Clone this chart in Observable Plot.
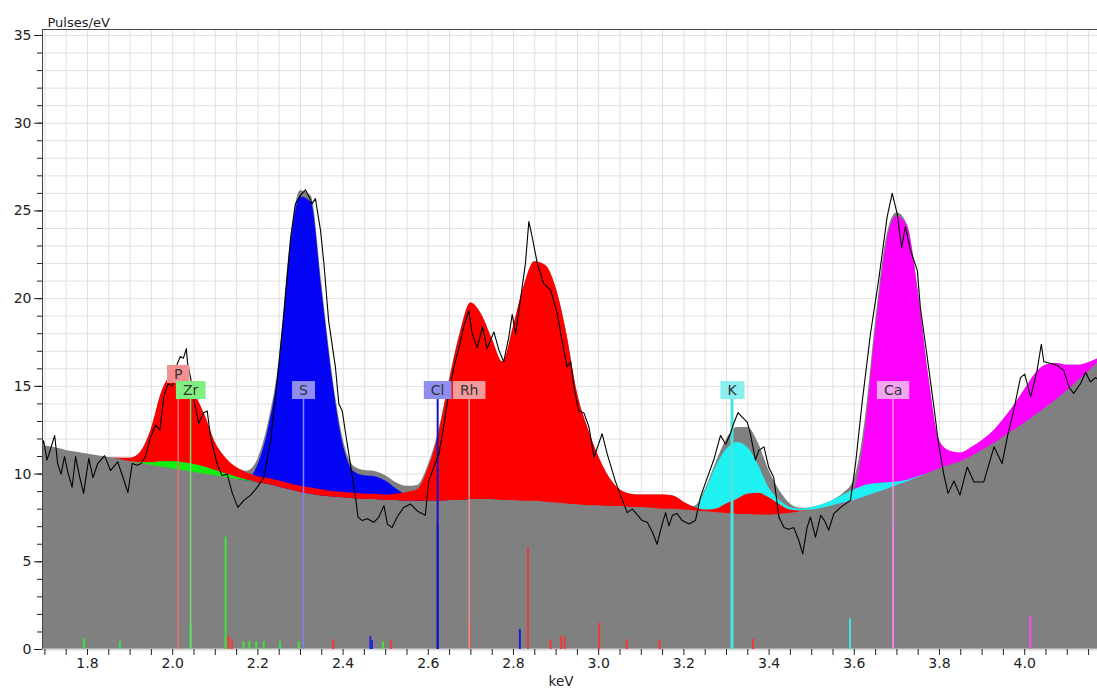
<!DOCTYPE html>
<html><head><meta charset="utf-8">
<script src="https://cdn.jsdelivr.net/npm/d3@7"></script>
<script src="https://cdn.jsdelivr.net/npm/@observablehq/plot@0.6"></script>
<style>body{margin:0;background:#fff} svg{display:block}</style>
</head><body>
<script>
// Energy grid (keV) for the fitted areas
const energy = [
  1.675, 1.700, 1.725, 1.750, 1.775, 1.800, 1.825, 1.850, 1.875, 1.900,
  1.925, 1.950, 1.975, 2.000, 2.025, 2.050, 2.075, 2.100, 2.125, 2.150,
  2.175, 2.200, 2.225, 2.250, 2.275, 2.300, 2.325, 2.350, 2.375, 2.400,
  2.425, 2.450, 2.475, 2.500, 2.525, 2.550, 2.575, 2.600, 2.625, 2.650,
  2.675, 2.700, 2.725, 2.750, 2.775, 2.800, 2.825, 2.850, 2.875, 2.900,
  2.925, 2.950, 2.975, 3.000, 3.025, 3.050, 3.075, 3.100, 3.125, 3.150,
  3.175, 3.200, 3.225, 3.250, 3.275, 3.300, 3.325, 3.350, 3.375, 3.400,
  3.425, 3.450, 3.475, 3.500, 3.525, 3.550, 3.575, 3.600, 3.625, 3.650,
  3.675, 3.700, 3.725, 3.750, 3.775, 3.800, 3.825, 3.850, 3.875, 3.900,
  3.925, 3.950, 3.975, 4.000, 4.025, 4.050, 4.075, 4.100, 4.125, 4.150,
  4.175];
// Bremsstrahlung background (Pulses/eV)
const background = [
  11.7, 11.6, 11.5, 11.35, 11.25, 11.15, 11.05, 10.95, 10.85, 10.7,
  10.6, 10.5, 10.4, 10.3, 10.2, 10.1, 10.0, 9.9, 9.8, 9.7,
  9.6, 9.5, 9.4, 9.25, 9.1, 8.95, 8.85, 8.75, 8.7, 8.65,
  8.6, 8.55, 8.55, 8.5, 8.5, 8.45, 8.45, 8.45, 8.45, 8.5,
  8.5, 8.55, 8.55, 8.55, 8.5, 8.5, 8.45, 8.45, 8.4, 8.35,
  8.3, 8.25, 8.2, 8.2, 8.15, 8.15, 8.1, 8.1, 8.05, 8.0,
  8.0, 7.95, 7.9, 7.85, 7.8, 7.75, 7.7, 7.7, 7.65, 7.65,
  7.7, 7.75, 7.85, 7.95, 8.05, 8.2, 8.35, 8.5, 8.7, 8.9,
  9.1, 9.35, 9.55, 9.8, 10.05, 10.3, 10.5, 10.7, 11.0, 11.35,
  11.7, 12.1, 12.5, 12.9, 13.35, 13.8, 14.25, 14.75, 15.3, 15.85,
  16.45];
// Element contributions above background
const redPRh = [
  0, 0, 0, 0, 0, 0, 0, 0, 0.05, 0.2,
  0.6, 1.9, 4.0, 4.9, 5.0, 4.1, 3.0, 1.6, 0.9, 0.55,
  0.4, 0.35, 0.35, 0.35, 0.35, 0.35, 0.35, 0.35, 0.3, 0.3,
  0.3, 0.3, 0.3, 0.3, 0.35, 0.5, 0.65, 1.85, 3.85, 6.8,
  9.5, 11.2, 10.55, 9.15, 7.9, 9.9, 12.25, 13.65, 13.5, 12.25,
  9.7, 6.35, 4.4, 2.8, 1.65, 0.95, 0.75, 0.7, 0.75, 0.8,
  0.75, 0.45, 0.2, 0.1, 0.2, 0.55, 0.85, 1.15, 1.25, 1.0,
  0.55, 0.2, 0.05, 0, 0, 0, 0, 0, 0, 0,
  0, 0, 0, 0, 0, 0, 0, 0, 0, 0,
  0, 0, 0, 0, 0, 0, 0, 0, 0, 0,
  0];
const greenZr = [
  0, 0, 0, 0, 0, 0, 0, 0, 0, 0,
  0.05, 0.15, 0.3, 0.4, 0.45, 0.45, 0.4, 0.3, 0.2, 0.12,
  0.06, 0, 0, 0, 0, 0, 0, 0, 0, 0,
  0, 0, 0, 0, 0, 0, 0, 0, 0, 0,
  0, 0, 0, 0, 0, 0, 0, 0, 0, 0,
  0, 0, 0, 0, 0, 0, 0, 0, 0, 0,
  0, 0, 0, 0, 0, 0, 0, 0, 0, 0,
  0, 0, 0, 0, 0, 0, 0, 0, 0, 0,
  0, 0, 0, 0, 0, 0, 0, 0, 0, 0,
  0, 0, 0, 0, 0, 0, 0, 0, 0, 0,
  0];
const blueSCl = [
  0, 0, 0, 0, 0, 0, 0, 0, 0, 0,
  0, 0, 0, 0, 0, 0, 0, 0, 0, 0,
  0.1, 1.0, 3.2, 6.85, 13.5, 16.85, 16.65, 11.75, 6.7, 3.05,
  1.55, 1.35, 1.3, 1.1, 0.65, 0.35, 0.25, 0.2, 0.2, 0.1,
  0.05, 0, 0, 0, 0, 0, 0, 0, 0, 0,
  0, 0, 0, 0, 0, 0, 0, 0, 0, 0,
  0, 0, 0, 0, 0, 0, 0, 0, 0, 0,
  0, 0, 0, 0, 0, 0, 0, 0, 0, 0,
  0, 0, 0, 0, 0, 0, 0, 0, 0, 0,
  0, 0, 0, 0, 0, 0, 0, 0, 0, 0,
  0];
const cyanK = [
  0, 0, 0, 0, 0, 0, 0, 0, 0, 0,
  0, 0, 0, 0, 0, 0, 0, 0, 0, 0,
  0, 0, 0, 0, 0, 0, 0, 0, 0, 0,
  0, 0, 0, 0, 0, 0, 0, 0, 0, 0,
  0, 0, 0, 0, 0, 0, 0, 0, 0, 0,
  0, 0, 0, 0, 0, 0, 0, 0, 0, 0,
  0, 0, 0.05, 1.15, 2.6, 3.65, 4.1, 3.8, 2.85, 1.55,
  0.8, 0.35, 0.15, 0.15, 0.2, 0.3, 0.45, 0.6, 0.65, 0.55,
  0.4, 0.2, 0.1, 0.05, 0, 0, 0, 0, 0, 0,
  0, 0, 0, 0, 0, 0, 0, 0, 0, 0,
  0];
const magentaCa = [
  0, 0, 0, 0, 0, 0, 0, 0, 0, 0,
  0, 0, 0, 0, 0, 0, 0, 0, 0, 0,
  0, 0, 0, 0, 0, 0, 0, 0, 0, 0,
  0, 0, 0, 0, 0, 0, 0, 0, 0, 0,
  0, 0, 0, 0, 0, 0, 0, 0, 0, 0,
  0, 0, 0, 0, 0, 0, 0, 0, 0, 0,
  0, 0, 0, 0, 0, 0, 0, 0, 0, 0,
  0, 0, 0, 0, 0, 0, 0.1, 0.6, 3.6, 9.2,
  13.9, 15.35, 14.55, 10.6, 5.45, 1.6, 0.8, 0.5, 0.5, 0.55,
  0.7, 1.0, 1.4, 1.9, 2.35, 2.4, 2.05, 1.45, 0.9, 0.5,
  0.15];

// Measured spectrum
const spectrumKeV = [
  1.693, 1.697, 1.705, 1.713, 1.723, 1.730, 1.738, 1.746, 1.754, 1.764,
  1.772, 1.782, 1.791, 1.803, 1.813, 1.824, 1.840, 1.854, 1.871, 1.895,
  1.905, 1.917, 1.926, 1.936, 1.948, 1.960, 1.970, 1.979, 1.989, 1.999,
  2.011, 2.018, 2.025, 2.032, 2.035, 2.042, 2.050, 2.061, 2.073, 2.081,
  2.089, 2.104, 2.116, 2.128, 2.140, 2.153, 2.167, 2.183, 2.197, 2.214,
  2.230, 2.245, 2.261, 2.277, 2.288, 2.300, 2.312, 2.320, 2.327, 2.335,
  2.347, 2.355, 2.366, 2.382, 2.390, 2.398, 2.406, 2.417, 2.429, 2.435,
  2.445, 2.457, 2.472, 2.484, 2.496, 2.504, 2.515, 2.527, 2.542, 2.558,
  2.574, 2.593, 2.601, 2.613, 2.625, 2.636, 2.648, 2.660, 2.672, 2.683,
  2.695, 2.703, 2.715, 2.727, 2.738, 2.754, 2.766, 2.777, 2.789, 2.797,
  2.805, 2.816, 2.828, 2.836, 2.844, 2.856, 2.871, 2.887, 2.903, 2.914,
  2.926, 2.934, 2.942, 2.953, 2.965, 2.977, 2.989, 3.008, 3.020, 3.039,
  3.059, 3.067, 3.079, 3.090, 3.102, 3.114, 3.126, 3.137, 3.149, 3.157,
  3.165, 3.173, 3.184, 3.196, 3.212, 3.227, 3.239, 3.255, 3.270, 3.286,
  3.298, 3.309, 3.317, 3.327, 3.337, 3.349, 3.356, 3.368, 3.376, 3.388,
  3.399, 3.411, 3.423, 3.435, 3.446, 3.458, 3.470, 3.479, 3.489, 3.497,
  3.509, 3.521, 3.530, 3.540, 3.552, 3.568, 3.579, 3.591, 3.603, 3.619,
  3.638, 3.658, 3.677, 3.689, 3.701, 3.711, 3.720, 3.732, 3.748, 3.755,
  3.771, 3.787, 3.798, 3.810, 3.820, 3.834, 3.848, 3.865, 3.881, 3.904,
  3.928, 3.947, 3.960, 3.974, 3.990, 4.000, 4.014, 4.029, 4.039, 4.045,
  4.061, 4.076, 4.092, 4.104, 4.115, 4.131, 4.143, 4.154, 4.166, 4.172];
const spectrumValue = [
  11.5, 11.9, 10.8, 11.4, 12.2, 10.6, 10.0, 11.0, 10.1, 9.25,
  11.0, 9.8, 8.9, 10.9, 9.8, 10.6, 11.05, 10.2, 10.7, 8.95,
  10.6, 10.5, 10.6, 11.0, 12.1, 12.8, 12.5, 14.4, 15.15, 15.0,
  16.3, 16.7, 16.6, 17.15, 16.3, 15.5, 14.2, 12.9, 13.5, 13.6,
  12.1, 10.6, 9.9, 10.0, 8.9, 8.1, 8.5, 8.8, 9.2, 9.8,
  11.9, 15.3, 19.1, 23.5, 25.4, 25.9, 26.2, 25.8, 25.4, 25.7,
  23.9, 22.0, 18.75, 16.1, 14.0, 13.6, 12.3, 10.6, 8.7, 7.55,
  7.35, 7.45, 7.25, 7.55, 8.2, 7.15, 6.95, 7.55, 8.1, 8.3,
  7.9, 7.65, 9.6, 10.4, 11.15, 12.7, 14.6, 16.1, 17.2, 18.4,
  19.3, 18.0, 17.2, 18.4, 17.15, 18.1, 17.05, 16.4, 17.8, 19.1,
  18.0, 19.9, 22.0, 24.4, 23.5, 22.0, 20.85, 20.5, 19.1, 17.6,
  16.1, 16.4, 14.95, 13.6, 13.5, 12.7, 10.95, 12.3, 11.15, 9.6,
  8.3, 7.8, 8.0, 7.7, 7.35, 7.25, 6.7, 6.0, 7.15, 7.8,
  7.05, 7.65, 7.75, 7.35, 7.15, 7.35, 8.7, 9.8, 10.8, 12.2,
  11.7, 12.3, 12.9, 13.5, 13.25, 12.95, 12.3, 10.8, 11.35, 11.55,
  10.4, 9.8, 7.55, 6.95, 6.85, 6.95, 6.2, 5.45, 6.95, 7.55,
  6.4, 7.65, 7.35, 6.8, 7.75, 8.1, 8.3, 8.5, 10.6, 14.2,
  18.0, 21.2, 24.65, 26.0, 24.8, 22.9, 24.1, 22.75, 21.6, 19.5,
  16.7, 13.8, 11.7, 10.0, 8.9, 9.6, 8.8, 10.4, 9.55, 9.55,
  11.55, 10.6, 12.2, 13.6, 15.5, 15.7, 14.4, 15.9, 17.4, 16.4,
  16.3, 16.2, 15.9, 14.95, 14.6, 15.15, 15.8, 15.25, 15.5, 15.4];

// Line intensity markers at the bottom
const lineKeV = [1.792, 1.876, 2.042, 2.124, 2.166, 2.180, 2.196, 2.214, 2.252, 2.296, 2.494,
  2.131, 2.139, 2.377, 2.512, 2.696, 2.834, 2.887, 2.912, 2.920, 3.001, 3.066, 3.143, 3.362,
  2.464, 2.468, 2.622, 2.815,
  3.313, 3.590,
  3.691, 4.013];
const lineHeight = [0.6, 0.45, 1.4, 6.4, 0.45, 0.45, 0.45, 0.45, 0.45, 0.45, 0.45,
  0.75, 0.6, 0.55, 0.5, 1.5, 5.8, 0.55, 0.75, 0.7, 1.5, 0.55, 0.5, 0.6,
  0.75, 0.5, 7.1, 1.15,
  7.4, 1.75,
  7.1, 1.9];
const lineElement = ["Zr","Zr","Zr","Zr","Zr","Zr","Zr","Zr","Zr","Zr","Zr",
  "P","P","Rh","Rh","Rh","Rh","Rh","Rh","Rh","Rh","Rh","Rh","Rh",
  "S","S","Cl","Cl",
  "K","K",
  "Ca","Ca"];

// Element label markers
const markerNames = ["P", "Zr", "S", "Cl", "Rh", "K", "Ca"];
const markerKeV = [2.013, 2.042, 2.307, 2.622, 2.696, 3.313, 3.691];
const markerLabelY = [15.68, 14.76, 14.76, 14.76, 14.76, 14.76, 14.76];

const xTickValues = d3.range(34, 84).map(k => k / 20);
const yMajorTicks = [0, 5, 10, 15, 20, 25, 30, 35];
const yMinorTicks = d3.range(0, 36);

// Styling
const barColor = {Zr: "#3fe03f", P: "#f03a3a", Rh: "#f03a3a", S: "#2626d8", Cl: "#1a1ad0", K: "#40e2e2", Ca: "#f050f0"};
const markerLineColor = {P: "#ee6e6e", Zr: "#70de70", S: "#8080ff", Cl: "#1414c4", Rh: "#f29090", K: "#44e4e4", Ca: "#f290f2"};
const markerLineWidth = {P: 1.5, Zr: 1.5, S: 1.5, Cl: 2, Rh: 1.5, K: 3, Ca: 1.5};
const markerBoxColor = {P: "#f39090", Zr: "#80ee80", S: "#8e8ef0", Cl: "#8e8ef0", Rh: "#f39a9a", K: "#88eeee", Ca: "#f2a6f2"};

const X0 = 1.6944, X1 = 4.1709, YMAX = 35.342;

const rows = energy.map((e, i) => ({
  e,
  total: background[i] + redPRh[i] + greenZr[i] + blueSCl[i] + cyanK[i] + magentaCa[i]
}));

// area from (background + base) to (background + base + values)
function layer(values, fill, base) {
  const data = energy.map((e, i) => {
    const on = values[i] > 0 || values[i - 1] > 0 || values[i + 1] > 0;
    const lo = background[i] + (base ? base[i] : 0);
    return {e, lo: on ? lo : NaN, hi: on ? lo + values[i] : NaN};
  });
  return Plot.areaY(data, {x: "e", y1: "lo", y2: "hi", fill, curve: "monotone-x", clip: true});
}

const spectrum = spectrumKeV.map((k, i) => ({k, v: spectrumValue[i]}));
const bars = lineKeV.map((k, i) => ({k, h: lineHeight[i], el: lineElement[i]}));
const markers = markerNames.map((n, i) => ({n, k: markerKeV[i], y: markerLabelY[i]}));

const chart = Plot.plot({
  width: 1097,
  height: 693,
  marginLeft: 42,
  marginRight: 0,
  marginTop: 29,
  marginBottom: 44,
  style: {fontFamily: "DejaVu Sans, Verdana, sans-serif", fontSize: "14px", background: "#fff", color: "#222"},
  x: {domain: [X0, X1]},
  y: {domain: [0, YMAX]},
  marks: [
    Plot.gridX(xTickValues, {stroke: "#e1e1e1", strokeOpacity: 1}),
    Plot.gridY(d3.range(1, 36), {stroke: "#e1e1e1", strokeOpacity: 1}),
    Plot.areaY(rows, {x: "e", y1: 0, y2: "total", fill: "#808080", curve: "monotone-x", clip: true}),
    layer(magentaCa, "#ff00ff"),
    layer(cyanK, "#1ff0f0"),
    layer(blueSCl, "#0505f5"),
    layer(redPRh, "#ff0000", greenZr),
    layer(greenZr, "#10f010"),
    Plot.ruleY([0], {stroke: "#d8d8d8", strokeWidth: 2}),
    Plot.ruleX(bars, {x: "k", y1: 0, y2: "h", stroke: d => barColor[d.el], strokeWidth: 2}),
    ...markers.map(m => Plot.ruleX([m], {x: "k", y1: 0, y2: "y", stroke: markerLineColor[m.n], strokeWidth: markerLineWidth[m.n]})),
    Plot.line(spectrum, {x: "k", y: "v", stroke: "#000", strokeWidth: 1.1, clip: true}),
    Plot.text(markers, {x: "k", y: "y", text: "n", fill: "#333", fontSize: 14}),
    Plot.ruleX([X0], {stroke: "#444"}),
    Plot.ruleY([YMAX], {stroke: "#444"}),
    Plot.axisX(xTickValues, {
      tickSize: 6, tickPadding: 3, label: null, color: "#222",
      tickFormat: d => { const k = Math.round(d * 20); return k % 4 === 0 ? (k / 20).toFixed(1) : ""; }
    }),
    Plot.axisY(yMajorTicks, {tickSize: 8, tickPadding: 3, label: null, color: "#222"}),
    Plot.axisY(yMinorTicks, {tickSize: 5, label: null, color: "#222", tickFormat: () => ""}),
    Plot.text(["Pulses/eV"], {frameAnchor: "top-left", dx: 5, dy: -12, textAnchor: "start", fontSize: 13, fill: "#222"}),
    Plot.text(["keV"], {frameAnchor: "bottom", dx: -9, dy: 36, fontSize: 13.5, fill: "#222"})
  ]
});

document.body.appendChild(chart);

// Colored boxes behind the element labels
chart.querySelectorAll("text").forEach(t => {
  const name = t.textContent;
  if (!(name in markerBoxColor)) return;
  const b = t.getBBox();
  const r = document.createElementNS("http://www.w3.org/2000/svg", "rect");
  r.setAttribute("x", b.x - 7);
  r.setAttribute("y", b.y - 1);
  r.setAttribute("width", b.width + 14);
  r.setAttribute("height", b.height + 2);
  r.setAttribute("fill", markerBoxColor[name]);
  const tr = t.getAttribute("transform");
  if (tr) r.setAttribute("transform", tr);
  t.parentNode.insertBefore(r, t);
});
</script>
</body></html>
